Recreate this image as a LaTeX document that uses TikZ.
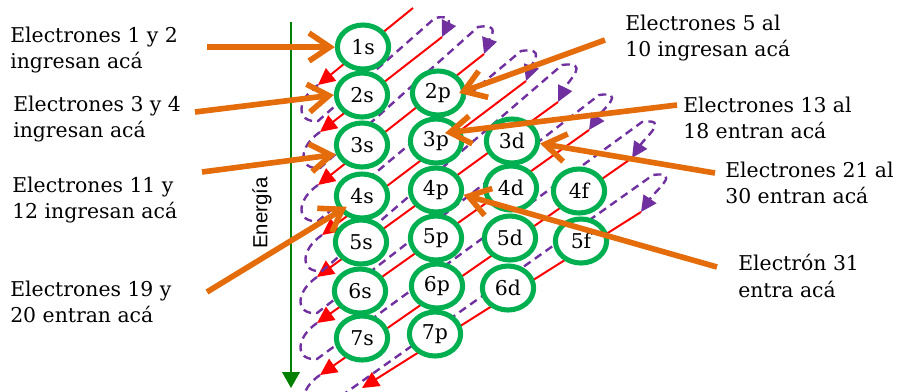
\documentclass[tikz,border=0pt]{standalone}
\usepackage{fontspec}
\setmainfont{DejaVu Serif}
\newfontfamily\axisfont{Liberation Sans}
\usepackage{xcolor}
\usepackage{tikz}
\usetikzlibrary{positioning, arrows.meta, calc, shapes.geometric}

\definecolor{orbgreen}{RGB}{0,176,80}
\definecolor{axisgreen}{RGB}{0,128,0}
\definecolor{callout}{RGB}{228,108,10}
\definecolor{loopviolet}{RGB}{112,48,160}

\begin{document}
\begin{tikzpicture}[
  x=0.025cm, y=-0.025cm,
  orbital/.style={
    ellipse, draw=orbgreen, line width=3.6pt, fill=white,
    minimum width=1.28cm, minimum height=1.1cm, inner sep=0pt,
    font=\fontsize{14.5}{16}\selectfont
  },
  fillline/.style={red, line width=1.4pt, -{Triangle[length=4.2mm, width=4mm]}},
  backloop/.style={loopviolet, line width=1.7pt, dash pattern=on 2mm off 1.3mm,
    -{Triangle[length=4mm, width=3.8mm]}},
  pointer/.style={callout, line width=4pt, -{Straight Barb[length=5.2mm, width=7mm]}},
  note/.style={align=left, anchor=west, inner sep=0pt, font=\fontsize{14.5}{18.9}\selectfont}
]
\useasboundingbox (0,0) rectangle (905,391);

% Energy axis
\coordinate (etop) at (291,22);
\coordinate (ebot) at (291,388);
\draw[axisgreen, line width=1.4pt, -{Triangle[length=4mm, width=4.4mm]}] (etop) -- (ebot);
\node[rotate=90, font=\axisfont\fontsize{14.5}{17}\selectfont] (elabel) at (262,213) {Energía};

% Diagonal filling lines (start top right, end bottom left)
\coordinate (s1) at (413,8);   \coordinate (e1) at (318,85);
\coordinate (s2) at (442,37);  \coordinate (e2) at (320,132);
\coordinate (s3) at (484,54);  \coordinate (e3) at (318,185);
\coordinate (s4) at (526,81);  \coordinate (e4) at (322,235);
\coordinate (s5) at (558,102); \coordinate (e5) at (317,277);
\coordinate (s6) at (589,130); \coordinate (e6) at (317,323);
\coordinate (s7) at (632,158); \coordinate (e7) at (320,375);
\coordinate (s8) at (641,212); \coordinate (e8) at (362,388);

\draw[fillline] (s1) -- (e1);
\draw[fillline] (s2) -- (e2);
\draw[fillline] (s3) -- (e3);
\draw[fillline] (s4) -- (e4);
\draw[fillline] (s5) -- (e5);
\draw[fillline] (s6) -- (e6);
\draw[fillline] (s7) -- (e7);
\draw[fillline] (s8) -- (e8);

% Dashed returns: end of one line back up to the start of the next
\draw[backloop] (e1) .. controls (296,100) and (296,123) .. (318,121)
  -- (435,18) .. controls (454.5,14) and (447.5,25.6) .. (s2);
\draw[backloop] (e2) .. controls (298,147) and (298,170) .. (320,168)
  -- (478,27) .. controls (501.5,23) and (490,37.8) .. (s3);
\draw[backloop] (e3) .. controls (296,200) and (296,223) .. (318,221)
  -- (521,51) .. controls (546,47) and (532.5,63) .. (s4);
\draw[backloop] (e4) .. controls (300,250) and (300,273) .. (322,271)
  -- (562,65) .. controls (590.5,61) and (569,79.8) .. (s5);
\draw[backloop] (e5) .. controls (295,292) and (295,315) .. (317,313)
  -- (599,95) .. controls (626.5,91) and (603,109) .. (s6);
\draw[backloop] (e6) .. controls (295,338) and (295,361) .. (317,359)
  -- (642,122) .. controls (670,118) and (646,136.4) .. (s7);
\draw[backloop] (e7) .. controls (298,390) and (298,413) .. (320,411)
  -- (653,175) .. controls (681.5,171) and (656,190) .. (s8);

% Orbitals: s column
\node[orbital] (o1s) at (363,47) {1s};
\node[orbital] (o2s) at (362,95) {2s};
\node[orbital] (o3s) at (362,145) {3s};
\node[orbital] (o4s) at (362,196) {4s};
\node[orbital] (o5s) at (361,242) {5s};
\node[orbital] (o6s) at (360,291) {6s};
\node[orbital] (o7s) at (362,338) {7s};

% p column
\node[orbital] (o2p) at (438,93) {2p};
\node[orbital] (o3p) at (436,141) {3p};
\node[orbital] (o4p) at (436,190) {4p};
\node[orbital] (o5p) at (436,238) {5p};
\node[orbital] (o6p) at (437,286) {6p};
\node[orbital] (o7p) at (435,334) {7p};

% d and f columns
\node[orbital] (o3d) at (512,141) {3d};
\node[orbital] (o4d) at (511,188) {4d};
\node[orbital] (o5d) at (510,238) {5d};
\node[orbital] (o6d) at (508,288) {6d};
\node[orbital] (o4f) at (579,191) {4f};
\node[orbital] (o5f) at (581,241) {5f};

% Callout arrows
\coordinate (f1) at (207,47);
\coordinate (f2) at (195,112);
\coordinate (f3) at (202,172);
\coordinate (f4) at (207,292);
\coordinate (f5) at (605,40);
\coordinate (f6) at (677,105);
\coordinate (f7) at (715,173);
\coordinate (f8) at (717,267);

\draw[pointer] (f1) -- (o1s.west);
\draw[pointer] (f2) -- (o2s.west);
\draw[pointer] (f3) -- (o3s.200);
\draw[pointer] (f4) -- ($(o4s.center)!0.7!(o4s.215)$);
\draw[pointer] (f5) -- ($(o2p.center)!0.75!(o2p.east)$);
\draw[pointer] (f6) -- ($(o3p.center)+(9,-8)$);
\draw[pointer] (f7) -- (o3d.355);
\draw[pointer] (f8) -- (o4p.350);

% Notes
\node[note] (n12) at (10,50) {Electrones 1 y 2\\ingresan acá};
\node[note] (n34) at (13,119) {Electrones 3 y 4\\ingresan acá};
\node[note] (n1112) at (12,200) {Electrones 11 y\\12 ingresan acá};
\node[note] (n1920) at (10,302) {Electrones 19 y\\20 entran acá};
\node[note] (n510) at (625,38) {Electrones 5 al\\10 ingresan acá};
\node[note] (n1318) at (683,118) {Electrones 13 al\\18 entran acá};
\node[note] (n2130) at (725,183) {Electrones 21 al\\30 entran acá};
\node[note] (n31) at (738,276) {Electrón 31\\entra acá};

\end{tikzpicture}
\end{document}
